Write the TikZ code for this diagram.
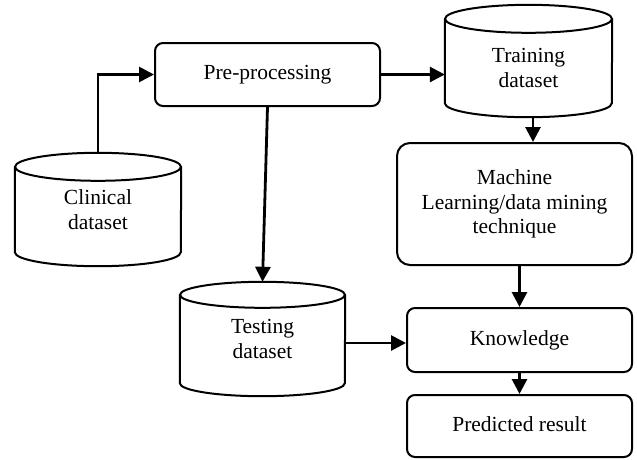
\documentclass[tikz,border=0pt]{standalone}
\usepackage{fontspec}
\setmainfont{Liberation Serif}
\usetikzlibrary{arrows.meta,calc}
\begin{document}
\begin{tikzpicture}[x=1pt,y=-1pt,
  every node/.style={font=\fontsize{21.5}{24.5}\selectfont, align=center},
  box/.style={draw, line width=2pt, rounded corners=#1, inner sep=0pt},
  box/.default=8pt,
  cylnode/.style={inner sep=0pt},
  cylline/.style={line width=2pt},
  arr/.style={line width=2.8pt, -{Triangle[length=15pt,width=15pt]}}]
\useasboundingbox (0,0) rectangle (637,459);
% boxes
\node[box, minimum width=225, minimum height=63] (pre) at (267.5,74.5) {Pre-processing};
\node[box=13pt, minimum width=235, minimum height=122] (ml) at (514.5,204) {Machine\\Learning/data mining\\technique};
\node[box, minimum width=225, minimum height=64] (know) at (519.5,340) {Knowledge};
\node[box, minimum width=225, minimum height=62] (pred) at (519.5,426) {\raisebox{3pt}{Predicted result}};
% cylinders
\node[cylnode, minimum width=166, minimum height=113] (clin) at (98,209.5) {Clinical\\dataset};
\node[cylnode, minimum width=167, minimum height=112] (train) at (528.5,61) {\\[4pt]Training\\dataset};
\node[cylnode, minimum width=165, minimum height=114] (test) at (262.5,339) {Testing\\dataset};
\foreach \c/\w/\r in {clin/83/14, train/83.5/14, test/82.5/13}{
  \draw[cylline] ($(\c.north)+(0,\r)$) ellipse [x radius=\w, y radius=\r];
  \draw[cylline] ($(\c.north west)+(0,\r)$) -- ($(\c.south west)+(0,-\r)$)
    arc[start angle=180, end angle=0, x radius=\w, y radius=\r]
    -- ($(\c.north east)+(0,\r)$);
}
% connectors
\draw[arr] (clin.north) |- (pre.west);
\draw[arr] (pre.east) -- (pre.east -| train.west);
\draw[arr] ([xshift=4.5pt]train.south) -- ([xshift=4.5pt]train.south |- ml.north);
\draw[arr] (ml.south -| know.north) -- (know.north);
\draw[arr] (know.south) -- (pred.north);
\draw[arr] (pre.south) -- (test.north);
\draw[arr] ([yshift=-4pt]test.east) -- ([yshift=-4pt]test.east -| know.west);
\end{tikzpicture}
\end{document}
